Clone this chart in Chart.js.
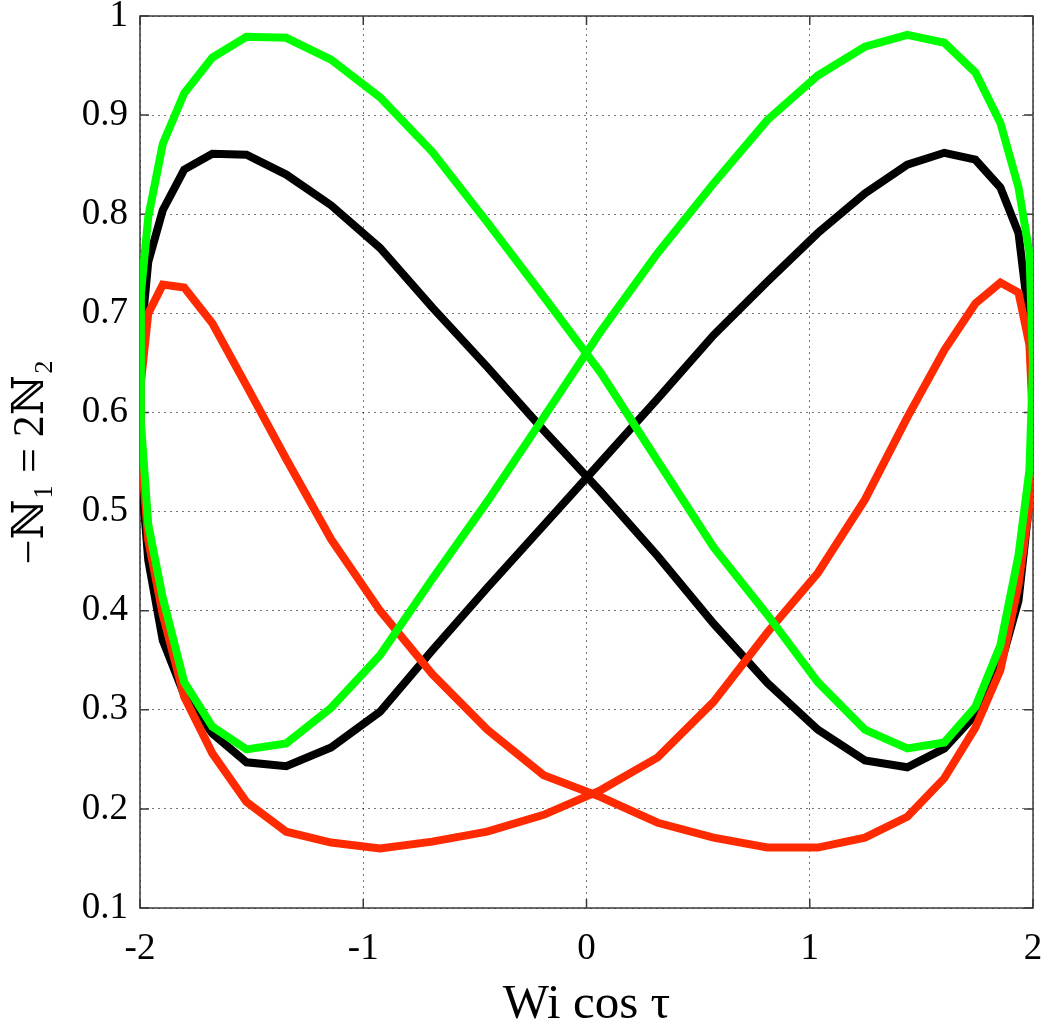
<!DOCTYPE html>
<html lang="en">
<head>
<meta charset="UTF-8">
<title>-N1 = 2N2 against Wi cos tau</title>
<script src="https://cdn.jsdelivr.net/npm/chart.js"></script>
<style>
  html, body { margin: 0; padding: 0; background: #fff; }
</style>
</head>
<body>
<canvas id="loopChart" width="1045" height="1030"></canvas>
<script>
// sample positions along Wi cos(tau), one full turn of tau (last point closes the loop)
const wiCos = [2.000, 1.984, 1.935, 1.854, 1.742, 1.603, 1.437, 1.247, 1.036, 0.810,
  0.569, 0.319, 0.064, -0.192, -0.445, -0.691, -0.925, -1.144, -1.345, -1.523,
  -1.676, -1.802, -1.898, -1.963, -1.996, -1.996, -1.963, -1.898, -1.802, -1.676,
  -1.523, -1.345, -1.144, -0.925, -0.691, -0.445, -0.192, 0.064, 0.319, 0.569,
  0.810, 1.036, 1.247, 1.437, 1.603, 1.742, 1.854, 1.935, 1.984, 2.000];

// -N1 = 2N2 at each sample, one array per curve
const blackN = [0.600, 0.690, 0.781, 0.827, 0.855, 0.862, 0.850, 0.821, 0.781, 0.732,
  0.678, 0.614, 0.550, 0.486, 0.423, 0.360, 0.298, 0.262, 0.243, 0.247,
  0.276, 0.315, 0.370, 0.451, 0.542, 0.673, 0.752, 0.804, 0.845, 0.861,
  0.860, 0.840, 0.809, 0.766, 0.706, 0.646, 0.582, 0.520, 0.455, 0.387,
  0.327, 0.280, 0.249, 0.242, 0.261, 0.295, 0.345, 0.410, 0.510, 0.600];

const greenN = [0.650, 0.761, 0.827, 0.892, 0.943, 0.973, 0.981, 0.969, 0.940, 0.895,
  0.831, 0.761, 0.682, 0.595, 0.510, 0.432, 0.355, 0.302, 0.266, 0.260,
  0.283, 0.328, 0.413, 0.487, 0.590, 0.720, 0.797, 0.871, 0.922, 0.958,
  0.979, 0.978, 0.956, 0.918, 0.863, 0.792, 0.717, 0.640, 0.551, 0.464,
  0.396, 0.328, 0.280, 0.261, 0.267, 0.303, 0.365, 0.456, 0.542, 0.650];

const redN = [0.590, 0.668, 0.721, 0.731, 0.710, 0.663, 0.595, 0.512, 0.438, 0.378,
  0.308, 0.252, 0.219, 0.194, 0.177, 0.167, 0.160, 0.166, 0.177, 0.207,
  0.256, 0.313, 0.396, 0.471, 0.562, 0.630, 0.700, 0.729, 0.726, 0.690,
  0.627, 0.553, 0.472, 0.400, 0.336, 0.280, 0.234, 0.212, 0.186, 0.171,
  0.161, 0.161, 0.171, 0.192, 0.231, 0.282, 0.340, 0.426, 0.507, 0.590];

const xTicks = [-2, -1, 0, 1, 2];
const yTicks = [0.1, 0.2, 0.3, 0.4, 0.5, 0.6, 0.7, 0.8, 0.9, 1];
const yTickLabels = ['0.1', '0.2', '0.3', '0.4', '0.5', '0.6', '0.7', '0.8', '0.9', '1'];

const serif = '"Liberation Serif", "DejaVu Serif", serif';

function toPoints(ys) {
    return wiCos.map((x, i) => ({ x: x, y: ys[i] }));
}

function loop(ys, colour) {
    return {
        data: toPoints(ys),
        showLine: true,
        borderColor: colour,
        backgroundColor: colour,
        borderWidth: 8,
        borderJoinStyle: 'miter',
        pointRadius: 0,
        tension: 0,
        fill: false
    };
}

// box round the plot with short ticks pointing inwards on every side
const frameTicks = {
    id: 'frameTicks',
    beforeDatasetsDraw(chart) {
        const { ctx, chartArea: a, scales } = chart;
        const len = 9;
        ctx.save();
        ctx.strokeStyle = '#3a3a3a';
        ctx.lineWidth = 1.5;
        ctx.strokeRect(a.left, a.top, a.right - a.left, a.bottom - a.top);
        ctx.beginPath();
        xTicks.forEach(v => {
            const px = scales.x.getPixelForValue(v);
            ctx.moveTo(px, a.bottom); ctx.lineTo(px, a.bottom - len);
            ctx.moveTo(px, a.top); ctx.lineTo(px, a.top + len);
        });
        yTicks.forEach(v => {
            const py = scales.y.getPixelForValue(v);
            ctx.moveTo(a.left, py); ctx.lineTo(a.left + len, py);
            ctx.moveTo(a.right, py); ctx.lineTo(a.right - len, py);
        });
        ctx.stroke();
        ctx.restore();
    }
};

const gridOpts = {
    color: 'rgba(0,0,0,0.55)',
    lineWidth: 1,
    drawTicks: false
};

new Chart(document.getElementById('loopChart').getContext('2d'), {
    type: 'scatter',
    data: {
        datasets: [
            loop(greenN, '#00ff00'),
            loop(redN, '#ff2a00'),
            loop(blackN, '#000000')
        ]
    },
    options: {
        responsive: false,
        animation: false,
        devicePixelRatio: 1,
        layout: { padding: { top: 16, right: 12, bottom: 0, left: 0 } },
        plugins: { legend: { display: false }, tooltip: { enabled: false } },
        scales: {
            x: {
                type: 'linear',
                min: -2,
                max: 2,
                grid: gridOpts,
                border: { display: false, dash: [2, 4] },
                afterBuildTicks: s => { s.ticks = xTicks.map(v => ({ value: v })); },
                afterFit: s => { s.height = 122; s.paddingLeft = 0; s.paddingRight = 0; },
                ticks: {
                    padding: 19,
                    color: '#000',
                    font: { family: serif, size: 37 },
                    callback: v => String(v)
                },
                title: {
                    display: true,
                    text: 'Wi cos τ',
                    color: '#000',
                    font: { family: serif, size: 49 },
                    padding: { top: 0, bottom: -5 }
                }
            },
            y: {
                type: 'linear',
                min: 0.1,
                max: 1,
                grid: gridOpts,
                border: { display: false, dash: [2, 4] },
                afterBuildTicks: s => { s.ticks = yTicks.map(v => ({ value: v })); },
                afterFit: s => { s.width = 140; s.paddingTop = 0; s.paddingBottom = 0; },
                ticks: {
                    padding: 12,
                    color: '#000',
                    font: { family: serif, size: 37 },
                    callback: (v, i) => yTickLabels[i]
                },
                title: {
                    display: true,
                    text: '−ℕ₁ = 2ℕ₂',
                    color: '#000',
                    font: { family: serif, size: 44 },
                    padding: { top: 5, bottom: 0 }
                }
            }
        }
    },
    plugins: [frameTicks]
});
</script>
</body>
</html>
